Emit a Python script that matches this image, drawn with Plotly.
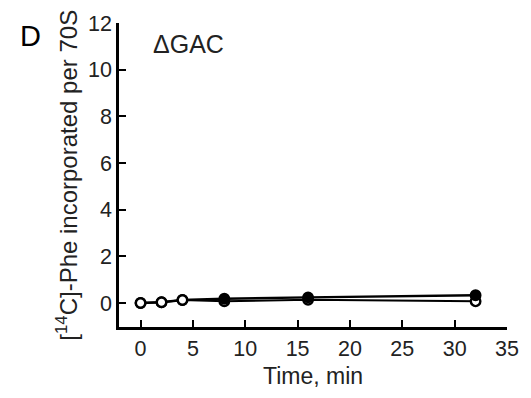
import plotly.graph_objects as go

# Time course of [14C]-Phe incorporation, ΔGAC ribosomes
time_min = [0, 2, 4, 8, 16, 32]
phe_filled = [0.0, 0.03, 0.13, 0.18, 0.24, 0.33]
phe_open = [0.0, 0.03, 0.13, 0.07, 0.14, 0.07]
# first three filled points coincide with the open ones and are drawn hollow
filled_fill = ["white", "white", "white", "black", "black", "black"]

x_ticks = [0, 5, 10, 15, 20, 25, 30, 35]
y_ticks = [0, 2, 4, 6, 8, 10, 12]

FONT = "Liberation Sans, Arial, sans-serif"

fig = go.Figure()
fig.add_trace(go.Scatter(
    x=time_min, y=phe_open, mode="lines+markers",
    line=dict(color="black", width=2),
    marker=dict(symbol="circle", size=9.5, color="white",
                line=dict(color="black", width=2.4)),
    showlegend=False,
))
fig.add_trace(go.Scatter(
    x=time_min, y=phe_filled, mode="lines+markers",
    line=dict(color="black", width=2.4),
    marker=dict(symbol="circle", size=9.5, color=filled_fill,
                line=dict(color="black", width=2.4)),
    showlegend=False,
))

axis_common = dict(
    showline=True, linecolor="black", linewidth=2.6,
    ticks="inside", ticklen=7, tickwidth=2.4, tickcolor="black",
    showgrid=False, zeroline=False,
    tickfont=dict(family=FONT, size=21.5, color="#222222"),
)

fig.update_layout(
    width=531, height=398,
    margin=dict(l=119, r=19, t=12, b=65, pad=0),
    paper_bgcolor="white", plot_bgcolor="white",
    xaxis=dict(range=[-2.06, 35], tickvals=x_ticks, **axis_common,
               title=dict(text="Time, min", standoff=9,
                          font=dict(family=FONT, size=23, color="#222222"))),
    yaxis=dict(range=[-1.03, 12], tickvals=y_ticks, **axis_common),
    annotations=[
        dict(text="[<sup>14</sup>C]-Phe incorporated per 70S",
             xref="paper", yref="paper", x=-0.133, y=0.499,
             xanchor="center", yanchor="middle", textangle=-90,
             showarrow=False,
             font=dict(family=FONT, size=24, color="#222222")),
        dict(text="D", xref="paper", yref="paper",
             x=-0.229, y=0.957, xanchor="center", yanchor="middle",
             showarrow=False,
             font=dict(family=FONT, size=29, color="black")),
        dict(text="ΔGAC", xref="paper", yref="paper",
             x=0.178, y=0.93, xanchor="center", yanchor="middle",
             showarrow=False,
             font=dict(family=FONT, size=25, color="#222222")),
    ],
)

fig.write_html("out.html")
